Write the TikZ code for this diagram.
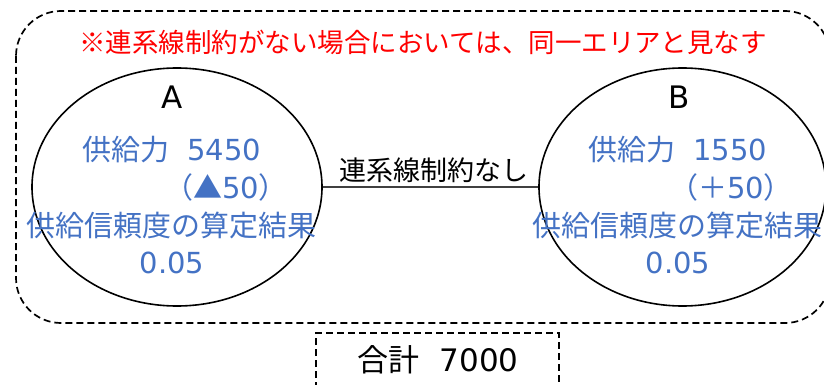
\documentclass[tikz,border=0pt]{standalone}
\usepackage{fontspec}
\setmainfont{Noto Sans CJK JP}
\newfontfamily\lat{DejaVu Sans}
\usetikzlibrary{shapes.geometric}
\definecolor{blu}{HTML}{4472C4}
\tikzset{
  area/.style={draw, ellipse, line width=1.6pt, minimum height=238pt, inner sep=0pt},
  bt/.style={text=blu, inner sep=0pt, font=\fontsize{29}{34}\selectfont},
  kt/.style={text=black, inner sep=0pt, font=\fontsize{27}{32}\selectfont},
  dsh/.style={line width=1.7pt, dash pattern=on 7pt off 4pt}
}
\begin{document}
\begin{tikzpicture}[x=1pt,y=-1pt]
\useasboundingbox (0,0) rectangle (824,385);
\begin{scope}
\clip (0,0) rectangle (824,385);
\draw[dsh, rounded corners=45pt] (16,11) rectangle (830,323);
\draw[dsh] (316,400) -- (316,333) -- (559,333) -- (559,400);
\node[area, minimum width=290pt] (A) at (177,187) {};
\node[area, minimum width=287pt] (B) at (682.5,187) {};
\draw[line width=1.2pt, black!75] (A) -- (B);
\end{scope}
\node[text=red, inner sep=0pt, font=\fontsize{26.5}{32}\selectfont] (note) at (423,42) {※連系線制約がない場合においては、同一エリアと見なす};
\node[kt] (lab) at (434,170) {連系線制約なし};
\node[kt, font=\fontsize{31}{34}\selectfont\lat] (an) at (172,97) {A};
\node[kt, font=\fontsize{31}{34}\selectfont\lat] (bn) at (679,97) {B};
\node[bt] (a1) at (172,150) {供給力\hspace{0.6em}{\lat 5450}};
\node[bt] (a2) at (226,187) {（▲{\lat 50}）};
\node[bt] (a3) at (171.5,225) {供給信頼度の算定結果};
\node[bt] (a4) at (172,263) {\lat 0.05};
\node[bt] (b1) at (678,150) {供給力\hspace{0.6em}{\lat 1550}};
\node[bt] (b2) at (731,187) {（＋{\lat 50}）};
\node[bt] (b3) at (677.5,225) {供給信頼度の算定結果};
\node[bt] (b4) at (678,263) {\lat 0.05};
\node[kt, font=\fontsize{31}{36}\selectfont] (sum) at (438,360) {合計\hspace{0.65em}{\lat 7000}};
\end{tikzpicture}
\end{document}
